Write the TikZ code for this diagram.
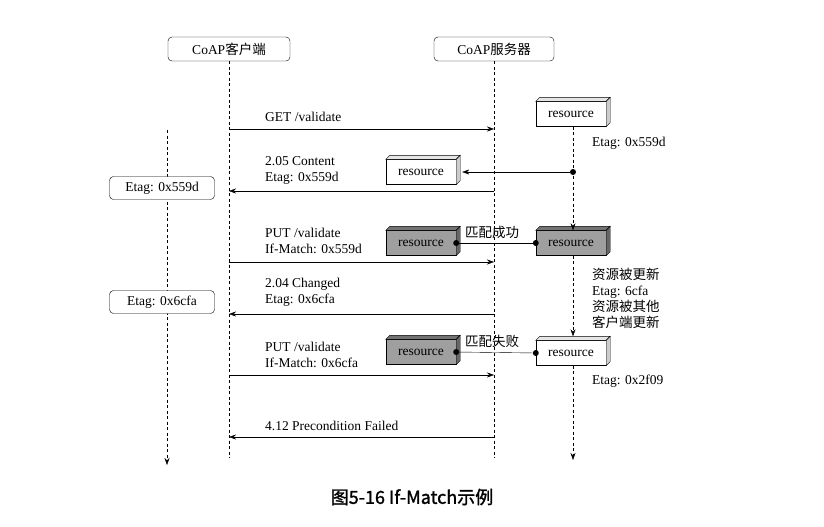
\documentclass[tikz,border=0pt]{standalone}
\usepackage{fontspec}
\setmainfont{Liberation Serif}
\newfontfamily\cjk{Noto Sans CJK SC}
\newfontfamily\cjkb{Noto Sans CJK SC}[FakeBold=1.5]
\usetikzlibrary{arrows.meta}
\begin{document}
\begin{tikzpicture}[x=1pt,y=1pt,font=\fontsize{13.5}{16}\selectfont,
  lbox/.style={draw,fill=white,rounded corners=4pt,minimum height=24pt,inner sep=4pt},
  res/.style={draw,minimum width=70pt,minimum height=25pt,inner sep=0pt},
  msg/.style={-{Stealth[length=7pt,width=5pt]}},
  dl/.style={dash pattern=on 3pt off 2.5pt},
  dsh/.style={dl,-{Stealth[length=7pt,width=5pt]}},
  lbl/.style={anchor=west,inner sep=0pt},
  dot/.style={circle,fill,inner sep=0pt,minimum size=6pt}]
\useasboundingbox (0,0) rectangle (824,-527);
\coordinate (la) at (167,-130); \coordinate (lb) at (167,-465);
\draw[dsh] (la) -- (lb);
\node[lbox,minimum width=122pt] (cl) at (229,-49) {CoAP{\cjk 客户端}};
\node[lbox,minimum width=120pt] (sv) at (494,-49) {CoAP{\cjk 服务器}};
\coordinate (cb) at (229,-458);
\coordinate (sb) at (494,-458);
\draw[dl] (cl.south) -- (cb);
\draw[dl] (sv.south) -- (sb);
% resources
\node[res,fill=white] (r1) at (571,-114) {resource};
\node[res,fill=white] (r2) at (421,-172) {resource};
\node[res,fill=gray!75] (r3) at (421,-243) {resource};
\node[res,fill=gray!75] (r4) at (571,-243) {resource};
\node[res,fill=gray!75] (r5) at (421,-352) {resource};
\node[res,fill=white] (r6) at (571,-353) {resource};
\foreach \n/\c in {r1/white,r2/white,r3/gray,r4/gray,r5/gray,r6/white}{
  \draw[fill=\c!90!black] (\n.north west) -- ++(4,4) -- ([shift={(4,4)}]\n.north east) -- (\n.north east) -- cycle;
  \draw[fill=\c!80!black] (\n.north east) -- ++(4,4) -- ([shift={(4,4)}]\n.south east) -- (\n.south east) -- cycle;}
% right lifeline
\coordinate (d1) at (573,-172);
\draw[dsh] (r1.south -| d1) -- (r4.north -| d1);
\draw[dsh] (r4.south -| d1) -- ([yshift=4pt]r6.north -| d1);
\coordinate (re) at (573,-460);
\draw[dsh] (r6.south -| d1) -- (re);
\node[dot] (p1) at (d1) {};
\draw[msg] (p1) -- ([xshift=6pt]r2.east);
\node[lbl] (e1) at (592,-143) {Etag: 0x559d};
\node[lbl,align=left] (e2) at (592,-298) {{\cjk 资源被更新}\\Etag: 6cfa\\{\cjk 资源被其他}\\{\cjk 客户端更新}};
\node[lbl] (e3) at (592,-381) {Etag: 0x2f09};
% matches
\node[dot] (m1) at (r3.east) {}; \node[dot] (m2) at (r4.west) {};
\draw (m1) -- (m2);
\node[anchor=south,inner sep=2pt] (t1) at (492,-241) {\cjk 匹配成功};
\node[dot] (m3) at (r5.east) {}; \node[dot] (m4) at (r6.west) {};
\draw (m3) -- (m4);
\node[anchor=south,inner sep=2pt] (t2) at (492,-350) {\cjk 匹配失败};
% messages
\foreach \y/\n in {129/a1,262/a3,375/a5}{\coordinate (c\n) at (229,-\y); \coordinate (s\n) at (494,-\y); \draw[msg] (c\n) -- (s\n);}
\foreach \y/\n in {191/a2,314/a4,437/a6}{\coordinate (c\n) at (229,-\y); \coordinate (s\n) at (494,-\y); \draw[msg] (s\n) -- (c\n);}
\node[lbl] (g1) at (265,-117) {GET /validate};
\node[lbl,align=left] (g2) at (265,-170) {2.05 Content\\Etag: 0x559d};
\node[lbl,align=left] (g3) at (265,-241) {PUT /validate\\If-Match: 0x559d};
\node[lbl,align=left] (g4) at (265,-292) {2.04 Changed\\Etag: 0x6cfa};
\node[lbl,align=left] (g5) at (265,-355) {PUT /validate\\If-Match: 0x6cfa};
\node[lbl] (g6) at (265,-426) {4.12 Precondition Failed};
\node[lbox,minimum width=105pt,minimum height=23pt] (b1) at (162,-188) {Etag: 0x559d};
\node[lbox,minimum width=105pt,minimum height=23pt] (b2) at (162,-302) {Etag: 0x6cfa};
\node (cap) at (412,-497) {\fontsize{18}{21}\selectfont\cjkb 图5-16 If-Match示例};
\end{tikzpicture}
\end{document}
